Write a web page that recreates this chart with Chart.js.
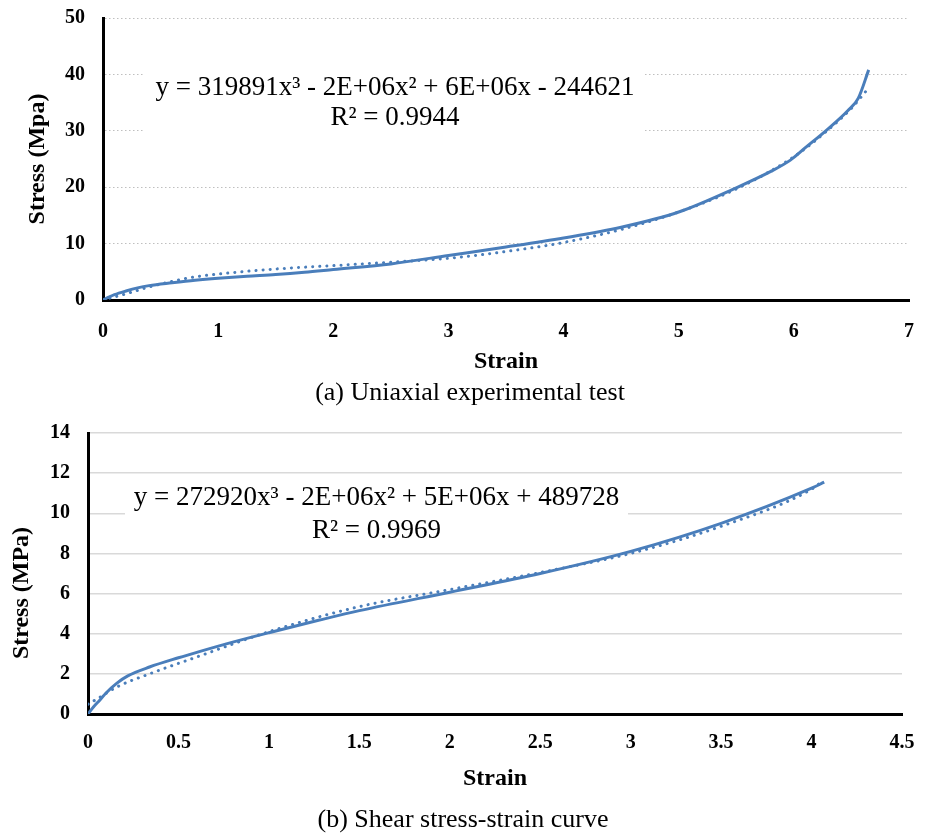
<!DOCTYPE html>
<html>
<head>
<meta charset="utf-8">
<title>Stress-strain curves</title>
<script src="https://cdn.jsdelivr.net/npm/chart.js@4.4.1/dist/chart.umd.min.js"></script>
<style>
  body { margin: 0; background: #fff; }
  #wrap { position: relative; width: 931px; height: 836px; }
  canvas { position: absolute; left: 0; }
</style>
</head>
<body>
<div id="wrap">
  <canvas id="uniaxial" width="931" height="410" style="top:0"></canvas>
  <canvas id="shear" width="931" height="426" style="top:410px"></canvas>
</div>
<script>
// (a) uniaxial test - measured curve
const uniStrain = [0, 0.05, 0.1, 0.2, 0.3, 0.4, 0.6, 0.8, 1.0, 1.25, 1.5, 1.75, 2.0, 2.5, 3.0, 3.5, 4.0, 4.5, 5.0, 5.5, 5.8, 5.97, 6.1, 6.3, 6.47, 6.56, 6.65];
const uniStress = [0, 0.5, 0.95, 1.6, 2.15, 2.55, 3.05, 3.5, 3.85, 4.2, 4.5, 4.9, 5.4, 6.4, 7.9, 9.4, 11.0, 12.9, 15.6, 19.9, 22.8, 24.8, 27.0, 30.4, 33.6, 35.8, 40.8];
// (a) cubic trendline
const uniFitStrain = [0, 0.2, 0.4, 0.6, 0.8, 1.0, 1.5, 2.0, 2.5, 3.0, 3.5, 4.0, 4.5, 5.0, 5.5, 6.0, 6.3, 6.5, 6.65];
const uniFitStress = [0, 1.1, 2.3, 3.3, 4.1, 4.6, 5.5, 6.1, 6.7, 7.4, 8.6, 10.2, 12.5, 15.6, 19.7, 25.4, 30.2, 34.0, 37.6];
const uniEquation = ['y = 319891x³ - 2E+06x² + 6E+06x - 244621', 'R² = 0.9944'];

// (b) shear test - measured curve
const shearStrain = [0, 0.03, 0.066, 0.1, 0.16, 0.22, 0.34, 0.5, 0.62, 0.8, 1.0, 1.28, 1.5, 2.0, 2.5, 3.0, 3.5, 4.0, 4.07];
const shearStress = [0, 0.35, 0.7, 1.05, 1.54, 1.9, 2.34, 2.8, 3.12, 3.58, 4.05, 4.68, 5.15, 6.07, 7.0, 8.1, 9.5, 11.25, 11.55];
// (b) cubic trendline
const shearFitStrain = [0, 0.05, 0.16, 0.34, 0.62, 1.0, 1.5, 2.0, 2.5, 3.0, 3.5, 4.0, 4.06];
const shearFitStress = [0.49, 0.75, 1.35, 2.0, 2.9, 4.1, 5.35, 6.2, 7.05, 8.0, 9.35, 11.2, 11.6];
const shearEquation = ['y = 272920x³ - 2E+06x² + 5E+06x + 489728', 'R² = 0.9969'];

const blue = '#4a7ebb';
const serif = '"Liberation Serif", "Times New Roman", serif';
Chart.defaults.font.family = serif;
Chart.defaults.color = '#000';

function points(xs, ys) {
    return xs.map((x, i) => ({ x: x, y: ys[i] }));
}

// equation box, rotated y title and caption under each plot
const figureText = {
    id: 'figureText',
    beforeDatasetsDraw(chart, args, opts) {
        const ctx = chart.ctx;
        const b = opts.box;
        ctx.save();
        ctx.fillStyle = '#fff';
        ctx.fillRect(b.x, b.y, b.w, b.h);
        ctx.fillStyle = '#000';
        ctx.font = '27px ' + serif;
        ctx.textAlign = 'center';
        ctx.textBaseline = 'middle';
        opts.equation.forEach((line, i) => ctx.fillText(line, b.x + b.w / 2, opts.lineY[i]));
        ctx.restore();
    },
    afterDraw(chart, args, opts) {
        const ctx = chart.ctx;
        ctx.save();
        ctx.fillStyle = '#000';
        ctx.textAlign = 'center';
        ctx.textBaseline = 'middle';
        ctx.translate(opts.yTitle.x, opts.yTitle.y);
        ctx.rotate(-Math.PI / 2);
        ctx.font = 'bold 24px ' + serif;
        ctx.fillText(opts.yTitle.text, 0, 0);
        ctx.restore();

        ctx.save();
        ctx.fillStyle = '#000';
        ctx.textAlign = 'center';
        ctx.textBaseline = 'middle';
        ctx.font = '26px ' + serif;
        ctx.fillText(opts.caption.text, opts.caption.x, opts.caption.y);
        ctx.restore();
    }
};

function makeChart(id, s) {
    const canvas = document.getElementById(id);
    const W = canvas.width, H = canvas.height;
    return new Chart(canvas, {
        type: 'line',
        data: {
            datasets: [{
                label: 'Poly. fit',
                data: points(s.fitX, s.fitY),
                borderColor: blue,
                borderWidth: 3,
                borderDash: [0.1, 7],
                borderCapStyle: 'round',
                pointRadius: 0,
                cubicInterpolationMode: 'monotone'
            }, {
                label: 'Test',
                data: points(s.x, s.y),
                borderColor: blue,
                borderWidth: 3,
                pointRadius: 0,
                cubicInterpolationMode: 'monotone'
            }]
        },
        options: {
            responsive: false,
            animation: false,
            layout: { padding: { top: s.area.top, right: W - s.area.right, left: 0, bottom: 0 } },
            plugins: {
                legend: { display: false },
                tooltip: { enabled: false },
                figureText: s.text
            },
            scales: {
                x: {
                    type: 'linear',
                    min: 0, max: s.xMax,
                    afterFit: (sc) => {
                        sc.height = H - s.area.bottom;
                        sc.paddingLeft = 0;
                        sc.paddingRight = 0;
                    },
                    grid: { display: false, drawTicks: false },
                    border: { color: '#000', width: 3 },
                    ticks: {
                        stepSize: s.xStep, padding: s.xPad,
                        font: { size: 20, weight: 'bold' },
                        callback: (v) => String(v)
                    },
                    title: {
                        display: true,
                        text: 'Strain',
                        font: { size: 24, weight: 'bold' },
                        padding: { top: 0, bottom: H - s.xTitleY - 14.4 }
                    }
                },
                y: {
                    min: 0, max: s.yMax,
                    afterFit: (sc) => {
                        sc.width = s.area.left;
                        sc.paddingTop = 0;
                        sc.paddingBottom = 0;
                    },
                    grid: { color: s.gridColor, lineWidth: s.gridWidth, drawTicks: false },
                    border: { color: '#000', width: 3, dash: s.gridDash },
                    ticks: { stepSize: s.yStep, padding: 18, font: { size: 20, weight: 'bold' } }
                }
            }
        },
        plugins: [figureText]
    });
}

makeChart('uniaxial', {
    x: uniStrain, y: uniStress, fitX: uniFitStrain, fitY: uniFitStress,
    xMax: 7, xStep: 1, yMax: 50, yStep: 10, xPad: 20, xTitleY: 362,
    area: { left: 103, top: 18, right: 909, bottom: 300 },
    gridColor: '#bfbfbf', gridWidth: 1, gridDash: [1.5, 2.5],
    text: {
        equation: uniEquation,
        box: { x: 145, y: 62, w: 500, h: 80 },
        lineY: [88, 118],
        yTitle: { text: 'Stress (Mpa)', x: 38, y: 159 },
        caption: { text: '(a) Uniaxial experimental test', x: 470, y: 393 }
    }
});

makeChart('shear', {
    x: shearStrain, y: shearStress, fitX: shearFitStrain, fitY: shearFitStress,
    xMax: 4.5, xStep: 0.5, yMax: 14, yStep: 2, xPad: 17, xTitleY: 369,
    area: { left: 88, top: 23, right: 902, bottom: 304 },
    gridColor: '#d9d9d9', gridWidth: 1.5, gridDash: [],
    text: {
        equation: shearEquation,
        box: { x: 125, y: 70, w: 503, h: 68 },
        lineY: [88, 121],
        yTitle: { text: 'Stress (MPa)', x: 22, y: 183 },
        caption: { text: '(b) Shear stress-strain curve', x: 463, y: 410 }
    }
});
</script>
</body>
</html>
